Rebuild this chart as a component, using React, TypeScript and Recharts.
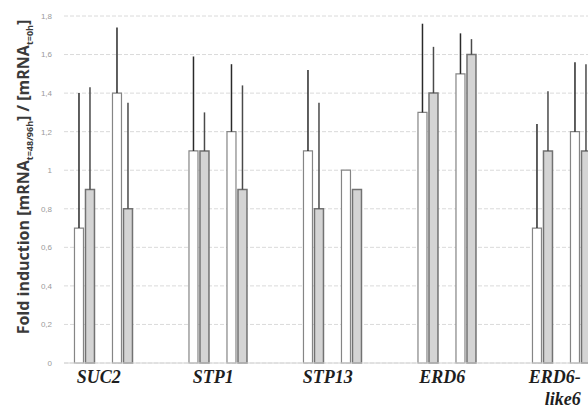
// Fold induction of sugar transporter transcripts, two paired
// white/grey bars per gene, upward-only error bars (Excel look).

import { BarChart, Bar, XAxis, YAxis, CartesianGrid, ErrorBar } from "recharts";

const categories = ["SUC2", "STP1", "STP13", "ERD6", "ERD6-like6"];

// bar heights, left to right inside each gene
const white1 = [0.7, 1.1, 1.1, 1.3, 0.7];
const grey1 = [0.9, 1.1, 0.8, 1.4, 1.1];
const white2 = [1.4, 1.2, 1.0, 1.5, 1.2];
const grey2 = [0.8, 0.9, 0.9, 1.6, 1.1];

// upper error only
const errWhite1 = [0.7, 0.49, 0.42, 0.46, 0.54];
const errGrey1 = [0.53, 0.2, 0.55, 0.24, 0.31];
const errWhite2 = [0.34, 0.35, 0, 0.21, 0.36];
const errGrey2 = [0.55, 0.54, 0, 0.08, 0.45];

const yTicks = [0, 0.2, 0.4, 0.6, 0.8, 1, 1.2, 1.4, 1.6, 1.8];

const data = categories.map((name, i) => ({
  pos: i,
  name,
  w1: white1[i],
  g1: grey1[i],
  w2: white2[i],
  g2: grey2[i],
  ew1: [0, errWhite1[i]],
  eg1: [0, errGrey1[i]],
  ew2: [0, errWhite2[i]],
  eg2: [0, errGrey2[i]],
}));

const WHITE_STROKE = "#858585";
const GREY_FILL = "#d4d4d4";
const GREY_STROKE = "#727272";

function fmtY(v: number): string {
  return String(v).replace(".", ",");
}

function CatTick({ x, y, payload }: any) {
  const label: string = categories[payload.value] ?? "";
  const style = {
    fontFamily: "'Liberation Serif', 'Times New Roman', serif",
    fontWeight: 700,
    fontStyle: "italic",
    fontSize: 18,
    fill: "#1e1e1e",
  } as const;
  if (label.includes("-")) {
    const [a, b] = label.split("-");
    return (
      <text x={x + 19} y={y} textAnchor="end" {...style}>
        <tspan x={x + 19} dy={20}>{a}-</tspan>
        <tspan x={x + 19} dy={22}>{b}</tspan>
      </text>
    );
  }
  return (
    <text x={x - 5} y={y} dy={20} textAnchor="middle" {...style}>
      {label}
    </text>
  );
}

function YTitle() {
  return (
    <text
      x={29}
      y={177}
      transform="rotate(-90, 29, 177)"
      textAnchor="middle"
      fontFamily="'Open Sans', 'Liberation Sans', sans-serif"
      fontWeight={700}
      fontSize={16}
      fill="#3a3a3a"
    >
      Fold induction [mRNA
      <tspan fontSize={9} dy={4}>t=48/96h</tspan>
      <tspan dy={-4}>] / [mRNA</tspan>
      <tspan fontSize={9} dy={4}>t=0h</tspan>
      <tspan dy={-4}>]</tspan>
    </text>
  );
}

export default function App() {
  return (
    <div
      style={{
        position: "fixed",
        left: 0,
        top: 0,
        width: 588,
        height: 411,
        overflow: "hidden",
        background: "#fff",
      }}
    >
      <BarChart
        width={680}
        height={411}
        data={data}
        barGap={2}
        margin={{ top: 16, right: 15, bottom: 18, left: 0 }}
      >
        <CartesianGrid vertical={false} stroke="#dadada" strokeDasharray="4 2" />
        <XAxis
          type="number"
          dataKey="pos"
          domain={[-0.347, 4.902]}
          allowDataOverflow
          ticks={[0, 1, 2, 3, 4]}
          interval={0}
          tick={<CatTick />}
          tickLine={false}
          tickSize={0}
          tickMargin={0}
          height={30}
          axisLine={{ stroke: "#d4d4d4" }}
        />
        <YAxis
          domain={[0, 1.8]}
          ticks={yTicks}
          interval={0}
          tickFormatter={fmtY}
          width={64}
          axisLine={false}
          tickLine={false}
          tickMargin={6}
          tick={{ fontFamily: "'Liberation Sans', sans-serif", fontSize: 8, fill: "#9a9a9a" }}
          label={<YTitle />}
        />
        <Bar dataKey="w1" barSize={9} fill="#fff" stroke={WHITE_STROKE} strokeWidth={1.2} isAnimationActive={false}>
          <ErrorBar dataKey="ew1" width={0} stroke="#2a2a2a" strokeWidth={1.5} direction="y" />
        </Bar>
        <Bar dataKey="g1" barSize={9} fill={GREY_FILL} stroke={GREY_STROKE} strokeWidth={1.5} isAnimationActive={false}>
          <ErrorBar dataKey="eg1" width={0} stroke="#4a4a4a" strokeWidth={1.5} direction="y" />
        </Bar>
        <Bar dataKey="gap" barSize={14} fill="none" stroke="none" isAnimationActive={false} />
        <Bar dataKey="w2" barSize={9} fill="#fff" stroke={WHITE_STROKE} strokeWidth={1.2} isAnimationActive={false}>
          <ErrorBar dataKey="ew2" width={0} stroke="#2a2a2a" strokeWidth={1.5} direction="y" />
        </Bar>
        <Bar dataKey="g2" barSize={9} fill={GREY_FILL} stroke={GREY_STROKE} strokeWidth={1.5} isAnimationActive={false}>
          <ErrorBar dataKey="eg2" width={0} stroke="#4a4a4a" strokeWidth={1.5} direction="y" />
        </Bar>
      </BarChart>
    </div>
  );
}
